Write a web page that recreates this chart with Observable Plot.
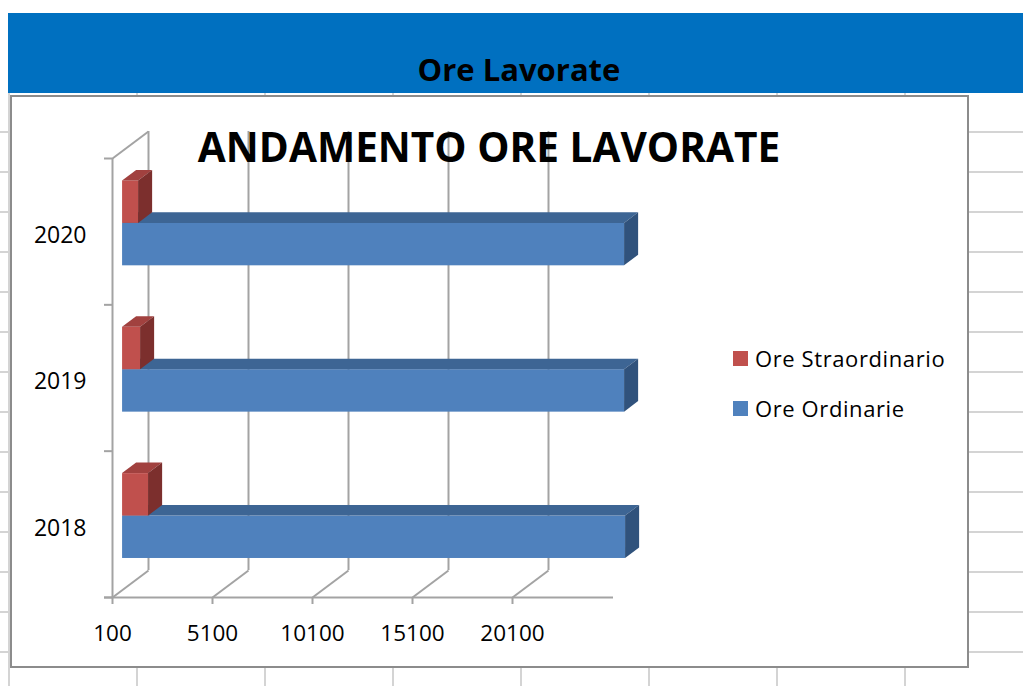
<!DOCTYPE html>
<html>
<head>
<meta charset="utf-8">
<script src="https://cdn.jsdelivr.net/npm/d3@7"></script>
<script src="https://cdn.jsdelivr.net/npm/@observablehq/plot@0.6"></script>
<style>
  html, body { margin: 0; padding: 0; width: 1023px; height: 686px; overflow: hidden; background: #fff; font-family: "Open Sans", sans-serif; }
  #page { position: relative; width: 1023px; height: 686px; }
  .vline { position: absolute; width: 2px; background: #d4d4d4; }
  .hline { position: absolute; height: 2px; background: #d4d4d4; }
  #header { position: absolute; left: 8px; top: 13px; width: 1015px; height: 80px; background: #0070C0; }
  .ctext { position: absolute; white-space: nowrap; line-height: 1; transform: translate(-50%, -50%); color: #000; }
  #box { position: absolute; left: 10px; top: 95px; width: 959px; height: 573px; box-sizing: border-box; border: 2px solid #8c8c8c; background: #fff; }
  #plot { position: absolute; left: 0; top: 0; }
  .legend-item { position: absolute; left: 733px; display: flex; align-items: center; font-size: 22px; letter-spacing: 0.6px; line-height: 1; }
  .swatch { width: 15px; height: 15px; margin-right: 7px; }
</style>
</head>
<body>
<div id="page"></div>
<script>
// ---------- data ----------
const categories = ["2018", "2019", "2020"];
const oreOrdinarie = [25250, 25200, 25200];
const oreStraordinario = [1400, 1000, 900];
const seriesNames = ["Ore Straordinario", "Ore Ordinarie"];
const xTicks = [100, 5100, 10100, 15100, 20100];
const headerTitle = "Ore Lavorate";
const chartTitle = "ANDAMENTO ORE LAVORATE";

// ---------- styles / layout ----------
const gridGray = "#a3a3a3";
const colors = {
  "Ore Ordinarie": { front: "#4F81BD", top: "#3D6594", side: "#30527C" },
  "Ore Straordinario": { front: "#C0504D", top: "#A1413F", side: "#7C2F2D" }
};
const X0 = 100, X1 = 25100;
const xRange = [112, 612];
const yRange = [597, 158];
const unitPx = (yRange[0] - yRange[1]) / 3;
const DEPTH_X = 36 * (X1 - X0) / (xRange[1] - xRange[0]);   // full depth in x units
const DEPTH_Y = 27 / unitPx;                                  // full depth in y units
const D0 = 0.28, D1 = 0.67;                                   // bar depth extent
const bands = { "Ore Ordinarie": [0.215, 0.505], "Ore Straordinario": [0.505, 0.795] };

const page = document.getElementById("page");

// spreadsheet grid (background decoration)
[9, 137, 265, 393, 521, 649, 777, 905].forEach(x => {
  const d = document.createElement("div"); d.className = "vline";
  d.style.left = (x - 1) + "px"; d.style.top = "88px"; d.style.height = "600px";
  page.appendChild(d);
});
for (let y = 132; y < 686; y += 40) {
  const d = document.createElement("div"); d.className = "hline";
  d.style.left = "0px"; d.style.top = (y - 1) + "px"; d.style.width = "1023px";
  page.appendChild(d);
}

// header
const header = document.createElement("div"); header.id = "header"; page.appendChild(header);
const ht = document.createElement("div"); ht.className = "ctext";
ht.style.left = "519px"; ht.style.top = "69px"; ht.style.fontSize = "31px"; ht.style.fontWeight = "bold";
ht.textContent = headerTitle; page.appendChild(ht);

// chart box
const box = document.createElement("div"); box.id = "box"; page.appendChild(box);

// ---------- faces ----------
function faces(name, values) {
  const [b0, b1] = bands[name];
  const front = values.map((v, i) => ({
    x1: X0 + D0 * DEPTH_X, x2: v + D0 * DEPTH_X,
    y1: i + b0 + D0 * DEPTH_Y, y2: i + b1 + D0 * DEPTH_Y
  }));
  const top = values.flatMap((v, i) => [X0, v].map(x => ({
    id: i, x1: x + D0 * DEPTH_X, y1: i + b1 + D0 * DEPTH_Y,
    x2: x + D1 * DEPTH_X, y2: i + b1 + D1 * DEPTH_Y
  })));
  const side = values.flatMap((v, i) => [b0, b1].map(b => ({
    id: i, x1: v + D0 * DEPTH_X, y1: i + b + D0 * DEPTH_Y,
    x2: v + D1 * DEPTH_X, y2: i + b + D1 * DEPTH_Y
  })));
  const c = colors[name];
  return [
    Plot.rect(front, { x1: "x1", x2: "x2", y1: "y1", y2: "y2", fill: c.front }),
    Plot.area(top, { x1: "x1", y1: "y1", x2: "x2", y2: "y2", z: "id", fill: c.top }),
    Plot.area(side, { x1: "x1", y1: "y1", x2: "x2", y2: "y2", z: "id", fill: c.side })
  ];
}

const chart = Plot.plot({
  width: 1023,
  height: 686,
  marginLeft: xRange[0],
  marginRight: 1023 - xRange[1],
  marginTop: yRange[1],
  marginBottom: 686 - yRange[0],
  style: { background: "transparent", fontFamily: "Open Sans", color: "#000", overflow: "visible" },
  x: { domain: [X0, X1], range: xRange, label: null },
  y: { domain: [0, 3], range: yRange, label: null },
  marks: [
    // back wall gridlines
    Plot.ruleX(xTicks, { x: d => d + DEPTH_X, y1: DEPTH_Y, y2: 3 + DEPTH_Y, stroke: gridGray, strokeWidth: 2 }),
    // floor diagonals
    Plot.link(xTicks, { x1: d => d, y1: 0, x2: d => d + DEPTH_X, y2: DEPTH_Y, stroke: gridGray, strokeWidth: 2 }),
    // left wall top edge
    Plot.link([3], { x1: X0, y1: d => d, x2: X0 + DEPTH_X, y2: d => d + DEPTH_Y, stroke: gridGray, strokeWidth: 2 }),
    // front left wall edge
    Plot.ruleX([X0], { y1: 0, y2: 3, stroke: gridGray, strokeWidth: 2 }),
    // front floor line
    Plot.ruleY([0], { x1: X0, x2: X1, insetLeft: -8, insetRight: -1, stroke: gridGray, strokeWidth: 2 }),
    Plot.axisY({ ticks: [0, 1, 2, 3], tickSize: 8, tickFormat: () => "", stroke: gridGray, strokeWidth: 2 }),
    Plot.axisX({ ticks: xTicks, tickSize: 7, tickPadding: 21, tickFormat: d => String(d), fontSize: 22.5, stroke: gridGray, strokeWidth: 2, fill: "#000" }),
    Plot.text(categories, { x: X0, y: (d, i) => i + 0.5, text: d => d, textAnchor: "end", dx: -26, dy: 4, fontSize: 23, fill: "#000" }),
    ...faces("Ore Ordinarie", oreOrdinarie),
    ...faces("Ore Straordinario", oreStraordinario)
  ]
});
chart.id = "plot";
page.appendChild(chart);

// chart title (on top of the plot)
const ct = document.createElement("div"); ct.className = "ctext";
ct.style.left = "489px"; ct.style.top = "147px"; ct.style.fontSize = "40.6px"; ct.style.fontWeight = "bold";
ct.textContent = chartTitle; page.appendChild(ct);

// legend
const legendY = { "Ore Straordinario": 358, "Ore Ordinarie": 408 };
seriesNames.forEach(name => {
  const item = document.createElement("div"); item.className = "legend-item";
  item.style.top = (legendY[name] - 12) + "px"; item.style.height = "24px";
  const sw = document.createElement("div"); sw.className = "swatch"; sw.style.background = colors[name].front;
  const tx = document.createElement("span"); tx.textContent = name;
  item.appendChild(sw); item.appendChild(tx);
  page.appendChild(item);
});
</script>
</body>
</html>
